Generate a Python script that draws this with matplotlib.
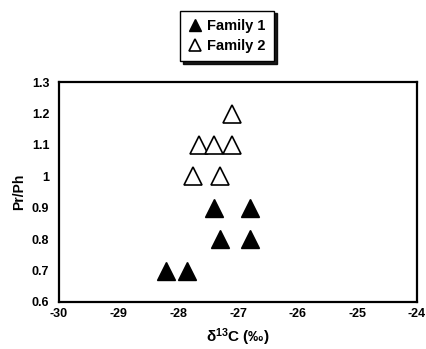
import matplotlib
matplotlib.use("Agg")
import matplotlib.pyplot as plt

plt.rcParams['font.family'] = ['Liberation Sans', 'DejaVu Sans']

fam1_x = [-28.2, -27.85, -27.3, -26.8, -27.4, -26.8]
fam1_y = [0.7, 0.7, 0.8, 0.8, 0.9, 0.9]
fam2_x = [-27.75, -27.3, -27.65, -27.4, -27.1, -27.1]
fam2_y = [1.0, 1.0, 1.1, 1.1, 1.1, 1.2]
xticks = [-30, -29, -28, -27, -26, -25, -24]
yticks = [0.6, 0.7, 0.8, 0.9, 1.0, 1.1, 1.2, 1.3]
ytick_labels = ['0.6', '0.7', '0.8', '0.9', '1', '1.1', '1.2', '1.3']

fig = plt.figure(figsize=(4.26, 3.49), dpi=100)
ax = fig.add_axes([0.1385, 0.1347, 0.8405, 0.630])

ax.plot(fam1_x, fam1_y, linestyle='none', marker='^', ms=13, mfc='black', mec='black', label='Family 1')
ax.plot(fam2_x, fam2_y, linestyle='none', marker='^', ms=13, mfc='white', mec='black', mew=1.2, label='Family 2')

ax.set_xlim(-30, -24)
ax.set_ylim(0.6, 1.3)
ax.set_xticks(xticks)
ax.set_xticklabels([str(t) for t in xticks], fontweight='bold', fontsize=9)
ax.set_yticks(yticks)
ax.set_yticklabels(ytick_labels, fontweight='bold', fontsize=9)
ax.tick_params(axis='y', length=0, pad=7)
ax.tick_params(axis='x', length=0, pad=4)
for s in ax.spines.values():
    s.set_linewidth(1.6)

ax.set_xlabel(r'$\mathregular{\delta^{13}}$C (‰)', fontweight='bold', fontsize=11, labelpad=5)
ax.set_ylabel('Pr/Ph', fontweight='bold', fontsize=10, labelpad=4)

leg = fig.legend(loc='center', bbox_to_anchor=(227 / 426, 1 - 36 / 349), frameon=True,
                 fancybox=False, shadow={'color': 'black', 'alpha': 0.9}, prop={'weight': 'bold', 'size': 10.5},
                 handletextpad=0.4, borderpad=0.55, labelspacing=0.45, handlelength=0.9,
                 borderaxespad=0, markerscale=0.65)
leg.get_frame().set_edgecolor('black')
leg.get_frame().set_linewidth(1.0)

fig.savefig('out.png', dpi=100)
